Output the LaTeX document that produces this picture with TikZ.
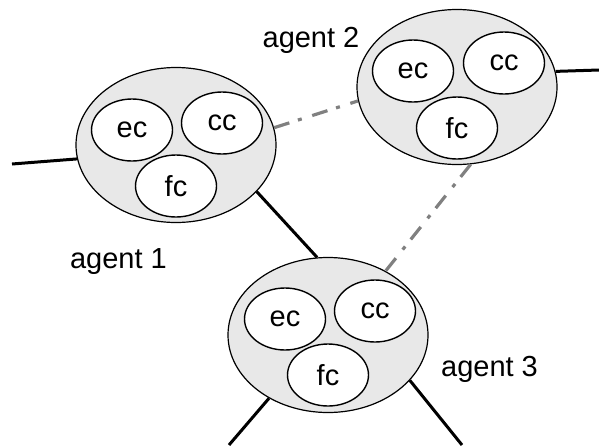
\documentclass[tikz,border=0pt]{standalone}
\usepackage{fontspec}
\setmainfont{Liberation Sans}
\usetikzlibrary{shapes.geometric}

\begin{document}
\begin{tikzpicture}[x=0.5pt,y=-0.5pt,font=\fontsize{14.5}{17}\selectfont,
    agent node/.style={ellipse,draw,line width=0.6pt,fill=black!9,minimum width=100pt,minimum height=77.5pt},
    part node/.style={ellipse,draw,line width=0.7pt,fill=white,inner sep=0pt,minimum width=40.5pt,minimum height=31pt},
    link/.style={line width=1.5pt},
    peer link/.style={line width=1.6pt,gray,dash pattern=on 8pt off 4.5pt on 2pt off 5.5pt}]

            \useasboundingbox (0,0) rectangle (599,445);

            \node[agent node]  (1) at (176,145) {};
            \node[agent node]  (2) at (457,87) {};
            \node[agent node]  (3) at (328,335) {};

            \node[part node]  (ec1) at (132,130) {ec};
            \node[part node]  (cc1) at (222,123) {cc};
            \node[part node]  (fc1) at (176,186) {fc};

            \node[part node]  (ec2) at (413,71) {ec};
            \node[part node]  (cc2) at (504,63) {cc};
            \node[part node]  (fc2) at (457,128) {fc};

            \node[part node]  (ec3) at (285,319) {ec};
            \node[part node]  (cc3) at (375,311) {cc};
            \node[part node]  (fc3) at (328,375) {fc};

            \node[anchor=base]  (l1) at (118.5,268) {agent 1};
            \node[anchor=base]  (l2) at (311,47) {agent 2};
            \node[anchor=base]  (l3) at (489.5,376) {agent 3};

            \coordinate (w1) at (12,164);
            \coordinate (e2) at (599,70);
            \coordinate (s3a) at (229,445);
            \coordinate (s3b) at (462,445);

            \path[link]
                (w1) edge (1.188)
                (1.-30) edge (3.98)
                (2.9) edge (e2)
                (3.-133) edge (s3a)
                (3.-29) edge (s3b)
            ;
            \path[peer link]
                (1.10) edge (2.188)
                (2.-80) edge (3.48)
            ;
        \end{tikzpicture}
\end{document}
